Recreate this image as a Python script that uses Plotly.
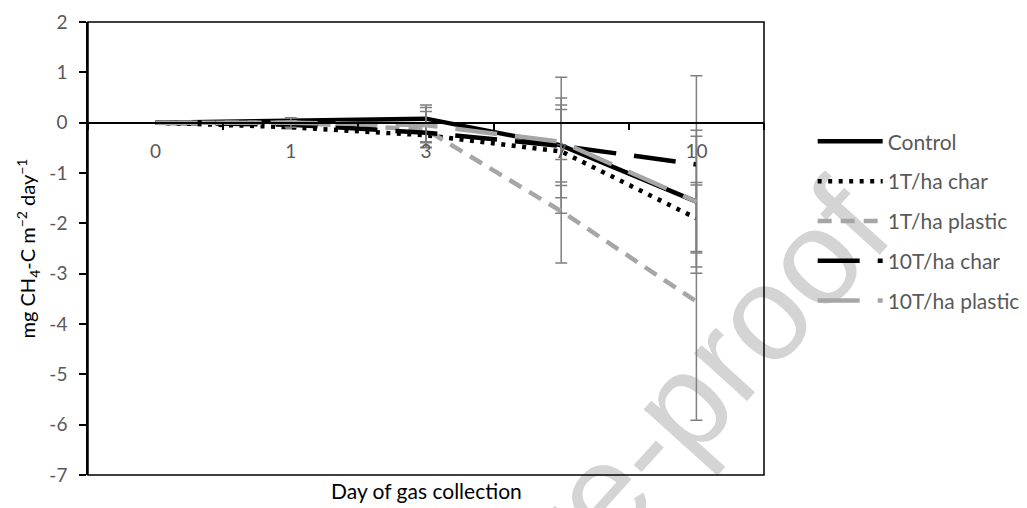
import plotly.graph_objects as go

# ---- data ----
days = ["0", "1", "3", "7", "10"]
control = [0.0, 0.05, 0.08, -0.45, -1.57]
char_1t = [0.0, -0.09, -0.25, -0.57, -1.90]
plastic_1t = [0.0, 0.0, -0.14, -1.76, -3.55]
char_10t = [0.0, -0.04, -0.20, -0.46, -0.83]
plastic_10t = [0.0, 0.0, -0.05, -0.38, -1.57]

err_control = [0.0, 0.05, 0.27, 1.35, 1.42]
err_char_1t = [0.0, 0.03, 0.24, 0.92, 0.66]
err_plastic_1t = [0.0, 0.04, 0.36, 1.03, 2.36]
err_char_10t = [0.0, 0.04, 0.18, 0.72, 1.76]
err_plastic_10t = [0.0, 0.09, 0.35, 0.87, 1.30]

names = ["Control", "1T/ha char", "1T/ha plastic", "10T/ha char", "10T/ha plastic"]
series = [control, char_1t, plastic_1t, char_10t, plastic_10t]
errors = [err_control, err_char_1t, err_plastic_1t, err_char_10t, err_plastic_10t]
colors = ["#000000", "#000000", "#a6a6a6", "#000000", "#a6a6a6"]
dashes = ["solid", "4px,6.5px", "14px,9px", "42px,18px", "42px,18px"]

y_ticks = list(range(-7, 3))
y_ticktext = [str(v) for v in y_ticks]

FONT = "Lato"
W, H = 1027, 508
ML, MR, MT, MB = 88, 263, 22, 33
PW, PH = W - ML - MR, H - MT - MB

def px_to_paper(px, py):
    return (px - ML) / PW, (H - MB - py) / PH

fig = go.Figure()
for name, ys, er, col, dash in zip(names, series, errors, colors, dashes):
    fig.add_trace(go.Scatter(
        x=days, y=ys, name=name, mode="lines", legendgroup=name,
        line=dict(color=col, width=4.5, dash=dash),
        error_y=dict(type="data", array=er, visible=True, color="#7f7f7f", thickness=1.5, width=6),
    ))

zero_pos = (0 - min(y_ticks)) / (max(y_ticks) - min(y_ticks))

# watermark (behind the data)
wx0, wy0 = px_to_paper(494, 709)
wx1, wy1 = px_to_paper(628, 561)

fig.update_layout(
    width=W, height=H,
    margin=dict(l=ML, r=MR, t=MT, b=MB, autoexpand=False),
    paper_bgcolor="white", plot_bgcolor="rgba(0,0,0,0)",
    font=dict(family=FONT, size=19, color="#595959"),
    xaxis=dict(
        type="category", categoryorder="array", categoryarray=days,
        range=[-0.5, 4.5], anchor="free", position=zero_pos,
        showline=True, linecolor="black", linewidth=1.5,
        ticks="outside", tickson="boundaries", ticklen=7, tickwidth=1.5, tickcolor="black",
        showgrid=False, zeroline=False,
        tickfont=dict(size=19, color="#595959"), ticklabelstandoff=12,
    ),
    xaxis2=dict(
        overlaying="x", anchor="free", position=zero_pos, range=[-0.5, 4.5],
        tickvals=[0.5, 1.5, 2.5, 3.5], ticks="inside", ticklen=7, tickwidth=1.5, tickcolor="black",
        showticklabels=False, showgrid=False, zeroline=False, showline=False,
    ),
    yaxis=dict(
        range=[min(y_ticks), max(y_ticks)], tickvals=y_ticks, ticktext=y_ticktext,
        showline=True, linecolor="black", linewidth=1.5,
        ticks="outside", ticklen=7, tickwidth=1.5, tickcolor="black",
        showgrid=False, zeroline=False,
        tickfont=dict(size=19, color="#595959"), ticklabelstandoff=8,
        title=dict(text="mg CH<sub>4</sub>-C m<sup>−2</sup> day<sup>−1</sup>",
                   font=dict(size=20, color="black"), standoff=8),
    ),
    yaxis2=dict(
        overlaying="y", anchor="x", side="left", range=[min(y_ticks), max(y_ticks)], tickvals=y_ticks,
        ticks="inside", ticklen=7, tickwidth=1.5, tickcolor="black",
        showticklabels=False, showgrid=False, zeroline=False, showline=False,
    ),
    legend=dict(
        x=1.072, xanchor="left", y=0.781, yanchor="top",
        font=dict(size=21, color="#595959"), itemwidth=65, tracegroupgap=9.5,
        bgcolor="rgba(0,0,0,0)",
    ),
    shapes=[
        dict(type="rect", xref="paper", yref="paper", x0=0, y0=0, x1=1, y1=1,
             line=dict(color="black", width=1.5), layer="above"),
        dict(type="line", xref="paper", yref="paper", x0=wx0, y0=wy0, x1=wx1, y1=wy1,
             line=dict(width=0, color="rgba(0,0,0,0)"), layer="below",
             label=dict(text="Journal Pre-proof", textposition="middle",
                        font=dict(family="Liberation Sans", size=135, color="#d4d4d4"))),
    ],
    annotations=[
        dict(text="Day of gas collection", xref="paper", yref="paper", x=0.5, y=px_to_paper(0, 490)[1],
             xanchor="center", yanchor="middle", showarrow=False, font=dict(size=21, color="black")),
    ],
)

fig.write_html("out.html")
